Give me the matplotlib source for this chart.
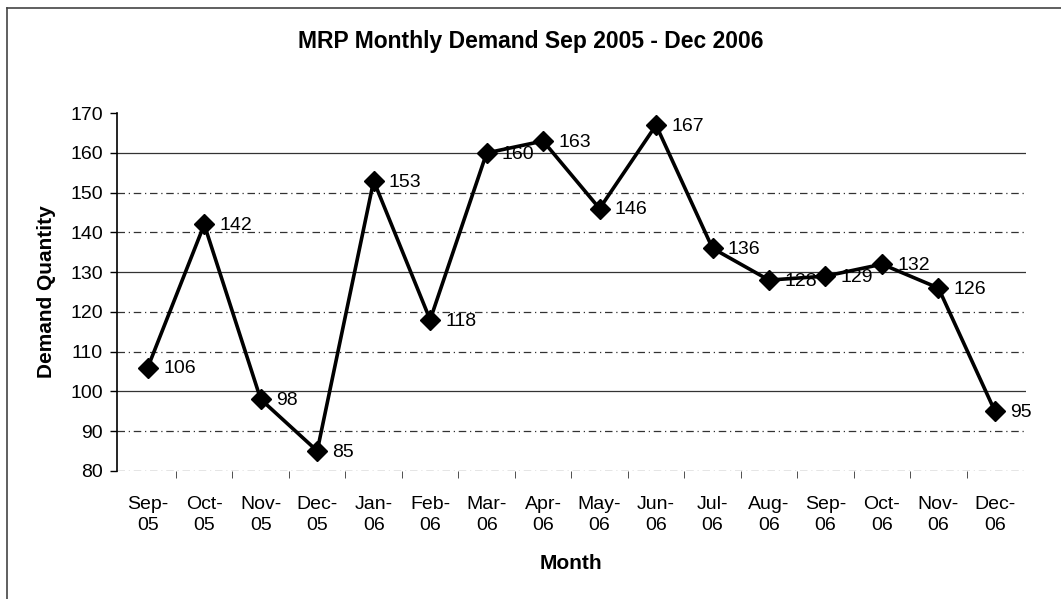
import numpy as np
import matplotlib.pyplot as plt
from matplotlib.lines import Line2D

# monthly demand data
months = ['Sep-\n05', 'Oct-\n05', 'Nov-\n05', 'Dec-\n05', 'Jan-\n06', 'Feb-\n06',
          'Mar-\n06', 'Apr-\n06', 'May-\n06', 'Jun-\n06', 'Jul-\n06', 'Aug-\n06',
          'Sep-\n06', 'Oct-\n06', 'Nov-\n06', 'Dec-\n06']
demand = [106, 142, 98, 85, 153, 118, 160, 163, 146, 167, 136, 128, 129, 132, 126, 95]
y_ticks = [80, 90, 100, 110, 120, 130, 140, 150, 160, 170]

plt.rcParams['font.family'] = ['Liberation Sans', 'DejaVu Sans']

fig = plt.figure(figsize=(10.61, 5.99), dpi=100)
ax = fig.add_axes([0.110, 0.214, 0.857, 0.597])

x = np.arange(len(demand))

# gridlines (some solid, some dashed like the scanned original)
for v in y_ticks[1:-1]:
    style = '-' if v in (100, 130, 160) else (0, (6, 3, 1, 3))
    ax.axhline(v, color='#333333', lw=0.9, ls=style, zorder=1)
ax.axhline(80, color='#333333', lw=0.9, ls=(0, (6, 3, 1, 3)), zorder=1)

ax.plot(x, demand, color='black', lw=2.6, marker='D', markersize=10, zorder=3)

for xi, yi in zip(x, demand):
    ax.annotate(str(yi), (xi, yi), xytext=(11, -1), textcoords='offset points',
                ha='left', va='center', fontsize=14, zorder=4)

ax.set_xlim(-0.55, len(demand) - 0.45)
ax.set_ylim(80, 170)
ax.set_yticks(y_ticks)
ax.set_xticks(x)
ax.set_xticklabels(months, fontsize=14, linespacing=1.35)
ax.set_xticks(np.arange(0.5, len(demand) - 0.5), minor=True)
ax.tick_params(axis='x', which='major', length=0, pad=18)
ax.tick_params(axis='x', which='minor', length=5, direction='out', color='#333333')
ax.tick_params(axis='y', labelsize=14, length=5, direction='out', width=1, pad=5)

for s in ['top', 'right', 'bottom']:
    ax.spines[s].set_visible(False)
ax.spines['left'].set_linewidth(1.2)

ax.set_ylabel('Demand Quantity', fontsize=15, fontweight='bold', labelpad=10)
ax.set_xlabel('Month', fontsize=15, fontweight='bold', labelpad=14)
fig.text(0.5, 0.93, 'MRP Monthly Demand Sep 2005 - Dec 2006', ha='center', va='center',
         fontsize=16.5, fontweight='bold')

# outer chart border (left and top visible)
fig.add_artist(Line2D([0.0065, 0.0065], [0, 0.987], color='#444444', lw=1.2))
fig.add_artist(Line2D([0.0065, 1.0], [0.987, 0.987], color='#444444', lw=1.2))

fig.savefig('out.png', dpi=100)
